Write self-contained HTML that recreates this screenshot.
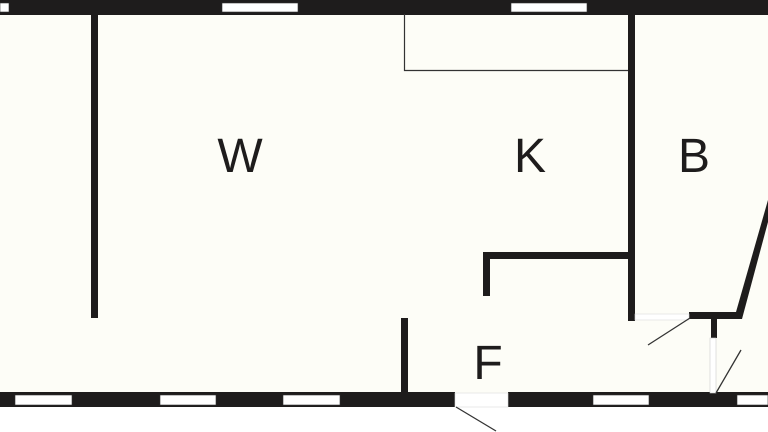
<!DOCTYPE html><html><head><style>body{margin:0}svg{display:block}</style></head><body>
<svg width="768" height="432" viewBox="0 0 768 432" xmlns="http://www.w3.org/2000/svg">
<rect width="768" height="432" fill="#fff"/>
<rect x="0" y="0" width="768" height="400" fill="#fdfdf7"/>
<g fill="#1e1c1c">
<rect x="0" y="0" width="768" height="15"/>
<rect x="0" y="392" width="455" height="15"/>
<rect x="508" y="392" width="260" height="15"/>
<rect x="91" y="14" width="7" height="304"/>
<rect x="401" y="318" width="7" height="76"/>
<rect x="628" y="14" width="7" height="307"/>
<rect x="483" y="252" width="151" height="7"/>
<rect x="483" y="252" width="7" height="44"/>
<rect x="689" y="312" width="48" height="7"/>
<rect x="711" y="312" width="6" height="26"/>
<polygon points="768,200 768,222 742,319 734,319"/>
</g>
<g fill="#fff" stroke="#333" stroke-width="0.6">
<rect x="0" y="3" width="9" height="9"/>
<rect x="222" y="3" width="76" height="9"/>
<rect x="511" y="3" width="76" height="9"/>
<rect x="15" y="395" width="57" height="10"/>
<rect x="160" y="395" width="56" height="10"/>
<rect x="283" y="395" width="57" height="10"/>
<rect x="593" y="395" width="56" height="10"/>
<rect x="737" y="395" width="31" height="10"/>
</g>
<rect x="710" y="338" width="6" height="55" fill="#fff" stroke="#ccc" stroke-width="0.6"/>
<rect x="635" y="314" width="54" height="6" fill="#fff" stroke="#ddd" stroke-width="0.6"/>
<rect x="455" y="393" width="53" height="14" fill="#fff" stroke="#ddd" stroke-width="0.6"/>
<g stroke="#333" fill="none">
<polyline points="404.5,14 404.5,70.5 628,70.5" stroke-width="1.2"/>
<line x1="648" y1="345" x2="690" y2="318" stroke-width="1.3"/>
<line x1="716" y1="393" x2="741" y2="350" stroke-width="1.3"/>
<line x1="456" y1="407" x2="496" y2="431" stroke-width="1.3"/>
</g>
<g font-family="Liberation Sans, sans-serif" font-size="48" fill="#1e1c1c" text-anchor="middle">
<text x="240" y="172">W</text>
<text x="530" y="172">K</text>
<text x="694" y="172">B</text>
<text x="488" y="379">F</text>
</g>
</svg>
</body></html>
